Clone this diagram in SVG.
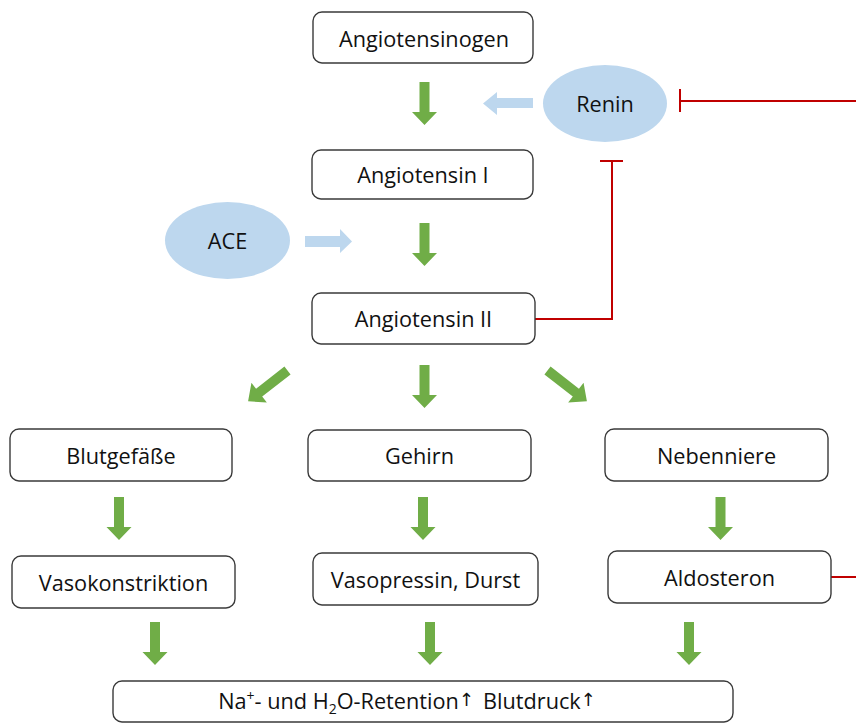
<svg xmlns="http://www.w3.org/2000/svg" width="856" height="724" viewBox="0 0 856 724">
<style>
.box{fill:#fff;stroke:#3a3a3a;stroke-width:1.4}
.t{font-family:"Open Sans","Liberation Sans",sans-serif;font-size:21.7px;fill:#111;text-anchor:middle}
.ell{fill:#BDD7EE}
.g{fill:#70AD47}
.b{fill:#BDD7EE}
.inh{stroke:#C00000;stroke-width:2;fill:none}
</style>
<defs>
<path id="da" d="M-5,0 H5 V30 H12.5 L0,43 L-12.5,30 H-5 Z"/>
<path id="dd" d="M-5,0 H5 V36 H12.5 L0,50 L-12.5,36 H-5 Z"/>
</defs>
<rect width="856" height="724" fill="#fff"/>
<g id="connectors">
<use href="#da" class="g" x="424.5" y="82"/>
<use href="#da" class="g" x="424.5" y="223"/>
<use href="#da" class="g" x="424.5" y="365"/>
<use href="#dd" class="g" transform="translate(287.5,370.5) rotate(52)"/>
<use href="#dd" class="g" transform="translate(547.5,370.5) rotate(-52)"/>
<use href="#da" class="g" x="119" y="497"/>
<use href="#da" class="g" x="423" y="497"/>
<use href="#da" class="g" x="720.5" y="497"/>
<use href="#da" class="g" x="155" y="622"/>
<use href="#da" class="g" x="430" y="622"/>
<use href="#da" class="g" x="689" y="622"/>
<path class="b" d="M533,98 H497 V92 L483,103.5 L497,115 V108 H533 Z"/>
<path class="b" d="M305,236 H340 V229 L352,241.5 L340,253 V247 H305 Z"/>
<path class="inh" d="M856,101 H680 M680,89 V112"/>
<path class="inh" d="M535,319 H612 V161 M600,161 H623"/>
<path class="inh" d="M831,577 H856"/>
</g>
<g id="angiotensinogen"><rect class="box" x="313" y="12" width="220" height="51" rx="9"/><text class="t" x="424" y="46.5">Angiotensinogen</text></g>
<g id="renin"><ellipse class="ell" cx="605" cy="103.5" rx="62" ry="38.5"/><text class="t" x="605" y="111.5">Renin</text></g>
<g id="angiotensin1"><rect class="box" x="312" y="150" width="221" height="49" rx="9"/><text class="t" x="423" y="183">Angiotensin I</text></g>
<g id="ace"><ellipse class="ell" cx="227.5" cy="240.5" rx="62.5" ry="38.5"/><text class="t" x="227.5" y="248.5">ACE</text></g>
<g id="angiotensin2"><rect class="box" x="312" y="293" width="223" height="51" rx="9"/><text class="t" x="423.5" y="327">Angiotensin II</text></g>
<g id="blutgefaesse"><rect class="box" x="10" y="429" width="222" height="52" rx="9"/><text class="t" x="121" y="464">Blutgefäße</text></g>
<g id="gehirn"><rect class="box" x="308" y="430" width="223" height="51" rx="9"/><text class="t" x="419.5" y="464">Gehirn</text></g>
<g id="nebenniere"><rect class="box" x="605" y="429" width="223" height="52" rx="9"/><text class="t" x="716.5" y="464">Nebenniere</text></g>
<g id="vasokonstriktion"><rect class="box" x="12" y="556" width="223" height="52" rx="9"/><text class="t" x="123.5" y="591">Vasokonstriktion</text></g>
<g id="vasopressin"><rect class="box" x="313" y="553" width="225" height="52" rx="9"/><text class="t" x="425.5" y="588">Vasopressin, Durst</text></g>
<g id="aldosteron"><rect class="box" x="608" y="551" width="223" height="52" rx="9"/><text class="t" x="719.5" y="586">Aldosteron</text></g>
<g id="ergebnis"><rect class="box" x="113" y="681" width="620" height="41" rx="9"/><text class="t" x="407" y="709">Na<tspan font-size="14" dy="-8">+</tspan><tspan dy="8">- und H</tspan><tspan font-size="14" dy="5">2</tspan><tspan dy="-5">O-Retention</tspan><tspan font-family="DejaVu Sans" font-size="18" dy="-3">↑</tspan><tspan dx="9" dy="3">Blutdruck</tspan><tspan font-family="DejaVu Sans" font-size="18" dy="-3">↑</tspan></text></g>
</svg>
